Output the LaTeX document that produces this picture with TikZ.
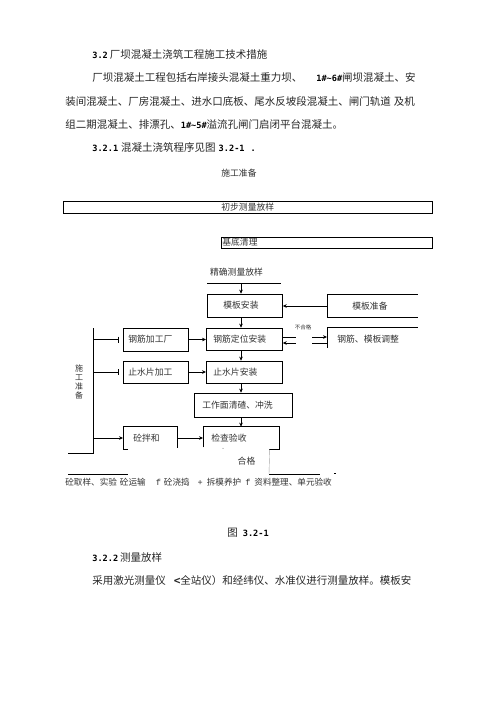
\documentclass[tikz,border=0pt]{standalone}
\usepackage{fontspec}
\setmainfont{Liberation Serif}
\newfontfamily\cjk{Noto Sans CJK SC}
\newfontfamily\monofont{Liberation Mono}
\newfontfamily\numfont{DejaVu Sans Mono}
\usetikzlibrary{arrows.meta}
\usetikzlibrary{calc}
\usetikzlibrary{positioning}
\tikzset{
every picture/.style={line width=0.7pt, >={Stealth[length=4pt,width=3.6pt]}},
%%%%%%%%%%  Text styles
bodytext/.style={anchor=west, inner sep=0pt, text=black!85,
                 font=\cjk\fontsize{10.5}{12}\selectfont},
flowtext/.style={inner sep=0pt, text=black!80,
                 font=\cjk\fontsize{8.8}{9}\selectfont},
tinytext/.style={inner sep=0pt, text=black!80,
                 font=\cjk\fontsize{5.5}{6}\selectfont},
%%%%%%%%%%  Box styles
stepbox/.style={flowtext, anchor=west, align=left, minimum height=22pt},
framed/.style={draw=black},
%%%%%%% line styles
bartip/.style={-{Bar[width=6pt]}, shorten >=4pt},
faint/.style={draw=black!35, line width=0.4pt}
}
\newcommand{\secno}[1]{{\numfont\bfseries\fontsize{8.6}{10}\selectfont\color{black}#1}}

\begin{document}
\begin{tikzpicture}[x=1pt,y=-1pt]
\fill[white] (0,0) rectangle (503,711);
\useasboundingbox (0,0) rectangle (503,711);
% text above the chart
\node[bodytext] (head) at (92,55) {\secno{3.2}\hspace{2pt}厂坝混凝土浇筑工程施工技术措施};
\node[bodytext] (para1) at (92,78) {厂坝混凝土工程包括右岸接头混凝土重力坝、\hspace{14pt}\secno{1\#\textasciitilde 6\#}闸坝混凝土、安};
\node[bodytext] (para2) at (65,102) {装间混凝土、厂房混凝土、进水口底板、尾水反坡段混凝土、闸门轨道\hspace{3pt}及机};
\node[bodytext] (para3) at (65,125) {组二期混凝土、排漂孔、\secno{1\#\textasciitilde 5\#}溢流孔闸门启闭平台混凝土。};
\node[bodytext] (subhead) at (92,148) {\secno{3.2.1}\hspace{3pt}混凝土浇筑程序见图\hspace{3pt}\secno{3.2-1}\hspace{6pt}\secno{.}};

% upper part of the chart
\node[flowtext, anchor=west] (prep) at (221,173) {施工准备};
\node[stepbox, framed, minimum height=12pt, inner xsep=158pt, text width=53pt] (survey) at (63,207) {初步测量放样};
\node[stepbox, framed, minimum height=11pt, inner xsep=1pt, text width=209pt] (base) at (221,242.5) {基底清理};
\node[flowtext] (fine) at (236.5,272) {精确测量放样};
\coordinate (fineL) at (207,283);
\coordinate (fineR) at (281,283);
\coordinate (axis) at (241,283);
\draw (fineL) -- (fineR);

% main column
\node[stepbox, framed, minimum height=23pt, inner xsep=16pt, text width=43pt] (formwork) at (207,305.5) {模板安装};
\node[stepbox, framed, inner xsep=7pt, text width=62pt] (rebarpos) at (206,339) {钢筋定位安装};
\node[stepbox, framed, inner xsep=7pt, text width=62pt] (stopins) at (206,372) {止水片安装};
\node[stepbox, framed, minimum height=24pt, inner xsep=8pt, text width=82pt] (clean) at (194,405) {工作面清碴、冲洗};
\node[stepbox, inner xsep=8pt, text width=60pt] (check) at (203,438) {检查验收};
\node[flowtext] (pass) at (246.5,461) {合格};

% side boxes
\node[stepbox, inner xsep=25pt, text width=40pt] (formprep) at (327,306) {模板准备};
\node[stepbox, inner xsep=10pt, text width=70pt] (adjust) at (327,339) {钢筋、模板调整};
\node[tinytext] (fail) at (303,327) {不合格};
\node[stepbox, framed, minimum height=23pt, inner xsep=5pt, text width=55pt] (rebarfab) at (123,339.5) {钢筋加工厂};
\node[stepbox, framed, inner xsep=5pt, text width=55pt] (stopfab) at (123,372) {止水片加工};
\node[stepbox, inner xsep=10pt, text width=34pt] (mix) at (123,438) {砼拌和};
\node[flowtext, align=center, font=\cjk\fontsize{8}{9}\selectfont] (sideprep) at (79,381.5) {施\\工\\准\\备};

% open boxes
\draw (formprep.north east) -- (formprep.north west) -- (formprep.south west) -- (formprep.south east);
\draw (adjust.north east) -- (adjust.north west) -- ([yshift=2pt]adjust.south west);
\draw ([yshift=2pt]check.south west) -- (check.north west) -- (check.north east)
      -- (check.south east) -- ([xshift=-11pt]check.south east);
\draw ([xshift=5pt]mix.south west) -- (mix.south west) -- (mix.north west)
      -- (mix.north east) -- ([yshift=1pt]mix.south east);
\fill[black!60] ([xshift=20pt,yshift=1pt]check.south west) circle (0.5);

% arrows of the main column
\draw[->] (axis) -- (axis |- formwork.north);
\draw[->] (formwork.south -| axis) -- (rebarpos.north -| axis);
\draw[->] (rebarpos.south -| axis) -- (stopins.north -| axis);
\draw[->] (stopins.south -| axis) -- (clean.north -| axis);
\draw[->] (clean.south -| axis) -- (check.north -| axis);
\draw[->] (formprep.west) -- (formprep.west -| formwork.east);
\draw[->] (rebarfab.east) -- (rebarfab.east -| rebarpos.west);
\draw[->] (stopfab.east) -- (stopfab.east -| stopins.west);
\draw[->] (mix.east) -- (mix.east -| check.west);

% not passed: there and back
\draw ([yshift=2pt]rebarpos.east) -- ++(13,0);
\draw[->] ([yshift=2pt,xshift=-15pt]adjust.west) -- ([yshift=2pt]adjust.west);
\draw ([yshift=-4pt]adjust.west) -- ++(-15,0);
\draw[->] ([yshift=-4pt,xshift=13pt]rebarpos.east) -- ([yshift=-4pt]rebarpos.east);

% left feed line
\coordinate (bustop) at (93,328);
\coordinate (busbot) at (93,453);
\coordinate (busend) at (68,453);
\draw (bustop) -- (busbot) -- (busend);
\draw[bartip] (bustop |- rebarfab.west) -- (rebarfab.west);
\draw[bartip] (bustop |- stopfab.west) -- (stopfab.west);
\draw[->] (bustop |- mix.west) -- (mix.west);

% bottom row
\coordinate (lowA) at (68,474);
\coordinate (lowB) at (128,474);
\coordinate (lowC) at (269,474);
\coordinate (lowD) at (320,474);
\draw[line width=0.5pt] (lowA) -- (lowB);
\draw[line width=0.5pt] (lowC) -- (lowD);
\draw[faint] ([xshift=-10pt]check.south east) -- (lowC);
\draw[line width=0.4pt] (334,473) -- (336,473);
\node[flowtext, anchor=west, font=\cjk\fontsize{8.6}{9}\selectfont] (after) at (65,482)
  {砼取样、实验\hspace{3pt}砼运输\hspace{10pt}{\monofont f}\hspace{3pt}砼浇捣\hspace{8pt}{\monofont +}\hspace{4pt}拆模养护\hspace{4pt}{\monofont f}\hspace{4pt}资料整理、单元验收};

% text below the chart
\node[bodytext] (figcap) at (227,533) {图\hspace{5pt}\secno{3.2-1}};
\node[bodytext] (subhead2) at (92,557) {\secno{3.2.2}\hspace{2pt}测量放样};
\node[bodytext] (para4) at (92,581) {采用激光测量仪\hspace{8pt}{\numfont\bfseries\fontsize{11}{12}\selectfont <}全站仪）和经纬仪、水准仪进行测量放样。模板安};
\end{tikzpicture}
\end{document}
